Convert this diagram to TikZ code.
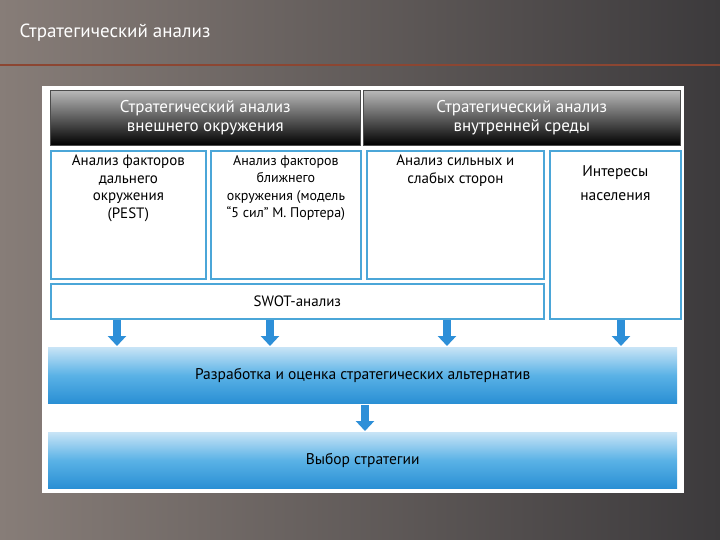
\documentclass[tikz,border=0pt]{standalone}
\usepackage{fontspec}
\usetikzlibrary{arrows.meta}
\setmainfont{PT Sans}
\begin{document}
\begin{tikzpicture}[x=1pt,y=-1pt,
  cell/.style={draw=cellblue,line width=1.8pt,fill=white,align=center,anchor=north west,inner sep=0pt},
  celltext/.style={anchor=north,align=center,inner sep=0pt,yshift=-5pt,font=\fontsize{15}{17.5}\selectfont},
  head/.style={top color=gray!55,bottom color=black,draw=gray!60!black,line width=0.6pt,text=white,align=center,font=\fontsize{17}{19}\selectfont},
  band/.style={top color=bandlight,bottom color=banddark,middle color=bandmid,draw=none,font=\fontsize{15.5}{17}\selectfont},
  arr/.style={line width=8pt,draw=arrblue,-{Triangle[width=18pt,length=10pt]}}]
\definecolor{cellblue}{HTML}{4BA6D8}
\definecolor{bandlight}{HTML}{C8E4F6}
\definecolor{bandmid}{HTML}{5AB2E6}
\definecolor{banddark}{HTML}{2A8FD4}
\definecolor{arrblue}{HTML}{2D8FD8}
\useasboundingbox (0,0) rectangle (720,540);
\shade[left color={rgb,255:red,135;green,125;blue,120},right color={rgb,255:red,60;green,58;blue,60}] (0,0) rectangle (720,540);
\draw[line width=2pt,color={rgb,255:red,140;green,70;blue,50}] (0,65) -- (720,65);
\node[anchor=west,text=white,font=\fontsize{19}{21}\selectfont] (title) at (16,33) {Стратегический анализ};
\fill[white] (42,86) rectangle (684,493);
\node[head,minimum width=310pt,minimum height=55pt,anchor=north west] (h1) at (50,90) {Стратегический анализ\\внешнего окружения};
\node[head,minimum width=317pt,minimum height=55pt,anchor=north west] (h2) at (363,90) {Стратегический анализ\\внутренней среды};
\node[cell,minimum width=155pt,minimum height=128pt] (c1) at (50,150) {};
\node[celltext] at (c1.north) {Анализ факторов\\дальнего\\окружения\\(PEST)};
\node[cell,minimum width=150pt,minimum height=128pt] (c2) at (210,150) {};
\node[celltext,font=\fontsize{14}{17.5}\selectfont] at (c2.north) {Анализ факторов\\ближнего\\окружения (модель\\“5 сил” М. Портера)};
\node[cell,minimum width=177pt,minimum height=128pt] (c3) at (366,150) {};
\node[celltext] at (c3.north) {Анализ сильных и\\слабых сторон};
\node[cell,minimum width=131pt,minimum height=168pt] (c4) at (549,150) {};
\node[celltext,font=\fontsize{15.5}{24}\selectfont,yshift=-10pt] at (c4.north) {Интересы\\населения};
\node[cell,minimum width=493pt,minimum height=35pt] (sw) at (50,283) {};
\node[font=\fontsize{15}{17}\selectfont] at (sw.center) {SWOT-анализ};
\node[band,minimum width=629pt,minimum height=56pt,anchor=north west] (b1) at (48,347) {Разработка и оценка стратегических альтернатив};
\node[band,minimum width=629pt,minimum height=56pt,anchor=north west] (b2) at (48,432) {Выбор стратегии};
\foreach \n/\x in {c1/117,c2/270,c3/447,c4/621}{
  \coordinate (s\n) at (\x,320);
  \coordinate (e\n) at (\x,346);
  \draw[arr] (s\n) -- (e\n);
}
\coordinate (m1) at (365,405);
\coordinate (m2) at (365,431);
\draw[arr] (m1) -- (m2);
\end{tikzpicture}
\end{document}
